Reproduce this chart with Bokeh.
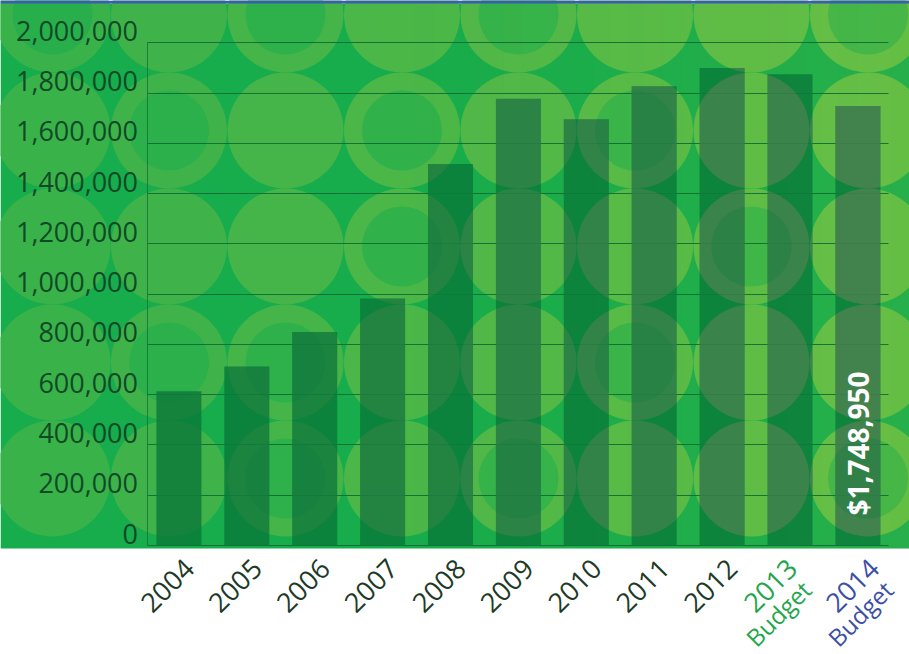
import math

from bokeh.core.properties import value
from bokeh.embed import file_html
from bokeh.models import FixedTicker, Grid, LinearAxis, NumeralTickFormatter, Range1d
from bokeh.plotting import figure
from bokeh.resources import INLINE

# ---- data -------------------------------------------------------------
years = ["2004", "2005", "2006", "2007", "2008", "2009", "2010",
         "2011", "2012", "2013", "2014"]
year_notes = ["", "", "", "", "", "", "", "", "", "Budget", "Budget"]
spending = [614000, 712000, 849000, 983000, 1518000, 1777000, 1696000,
            1827000, 1900000, 1875000, 1748950]
y_ticks = [0, 200000, 400000, 600000, 800000, 1000000,
           1200000, 1400000, 1600000, 1800000, 2000000]

# ---- styling ----------------------------------------------------------
DARK_TEXT = "#1d3a28"
BUDGET_GREEN = "#22a64b"
BUDGET_BLUE = "#3c4fa6"
label_colors = [DARK_TEXT] * 9 + [BUDGET_GREEN, BUDGET_BLUE]
label_nudge = [0] * 9 + [-8, 6]       # horizontal tweak of each year label, px

BASE_RGB = (23, 172, 76)
LIGHT_LEFT = (58, 178, 74)
LIGHT_RIGHT = (96, 189, 70)
RING_INNER_MIX = 0.5
BAR_COLOR = "#0a7d3a"
BAR_SHADOW = "#7a7f66"     # tint of the backdrop circles seen through the bars
GRID_COLOR = "#0e6a33"
RULE_COLOR = "#3a5cb2"
FONT = value("Open Sans")

# ---- geometry (pixels, measured from the top-left of the canvas) -------
W, H = 909, 654
PANEL_TOP = 3        # the green panel starts below a thin blue rule
PANEL_BOTTOM = 548   # ... and ends above a white strip with the year labels
ZERO_PX = 545        # canvas row of the zero line
STEP = 67.9          # distance between bar centres
FIRST = 178.4        # centre of the first bar
BAR_W = 0.663        # bar width as a share of the step
VAL_PER_PX = 3978.5
LABEL_LIFT = 12      # tick labels sit just above their grid lines
YEAR_TOP = 556       # top of the rotated year labels
NOTE_DX, NOTE_DY = 10, 17   # step to the second line of a two-line label
CIRCLE_D, INNER_D = 116, 80


def to_x(px):
    return (px - FIRST) / STEP


def to_y(py):
    return (ZERO_PX - py) * VAL_PER_PX


def mix(a, b, t):
    return "#%02x%02x%02x" % tuple(int(round(a[i] + (b[i] - a[i]) * t)) for i in range(3))


def clip_to_box(pts, x0, x1, y0, y1):
    """Sutherland-Hodgman clip of a polygon against an axis-aligned box."""
    edges = [
        (lambda q: q[0] >= x0, lambda a, b: (x0, a[1] + (b[1] - a[1]) * (x0 - a[0]) / (b[0] - a[0]))),
        (lambda q: q[0] <= x1, lambda a, b: (x1, a[1] + (b[1] - a[1]) * (x1 - a[0]) / (b[0] - a[0]))),
        (lambda q: q[1] >= y0, lambda a, b: (a[0] + (b[0] - a[0]) * (y0 - a[1]) / (b[1] - a[1]), y0)),
        (lambda q: q[1] <= y1, lambda a, b: (a[0] + (b[0] - a[0]) * (y1 - a[1]) / (b[1] - a[1]), y1)),
    ]
    for inside, cut in edges:
        out = []
        for i in range(len(pts)):
            cur, prev = pts[i], pts[i - 1]
            if inside(cur):
                if not inside(prev):
                    out.append(cut(prev, cur))
                out.append(cur)
            elif inside(prev):
                out.append(cut(prev, cur))
        pts = out
        if not pts:
            break
    return pts


def ring_points(px, py, d, n=72):
    return [(px + d / 2 * math.cos(2 * math.pi * k / n),
             py + d / 2 * math.sin(2 * math.pi * k / n)) for k in range(n)]


idx = list(range(len(years)))
axis_x = to_x(146.5)
grid_end = to_x(888)

x_range = Range1d(to_x(0), to_x(W))
y_range = Range1d(to_y(H), to_y(0))

p = figure(width=W, height=H, x_range=x_range, y_range=y_range,
           x_axis_type=None, y_axis_type=None, toolbar_location=None,
           output_backend="svg", min_border=0,
           border_fill_color="white", background_fill_color="white",
           outline_line_color=None)

# green panel
p.quad(left=[to_x(0)], right=[to_x(W)], bottom=[to_y(PANEL_BOTTOM)],
       top=[to_y(PANEL_TOP)], fill_color=mix(BASE_RGB, BASE_RGB, 0),
       line_color=None, level="image")

# backdrop: a wallpaper of tangent circles, some solid, some rings
pattern = ["rfrfrffr",
           "frfrfrff",
           "fffrffrf",
           "frrffrff",
           "ffrfrffr"]
circles = []   # (px, py, ring?, position across the panel 0..1)
cx, cy, cc, ix, iy, ic = [], [], [], [], [], []
for r, row in enumerate(pattern):
    for c, kind in enumerate(row):
        px, py = 52 + 116.5 * c, 14 + 116 * r
        t = min(max((px - 60) / 800, 0), 1)
        circles.append((px, py, kind == "r", min(max((px - 200) / 680, 0), 1)))
        light = tuple(LIGHT_LEFT[i] + (LIGHT_RIGHT[i] - LIGHT_LEFT[i]) * t for i in range(3))
        cx.append(to_x(px)); cy.append(to_y(py)); cc.append(mix(light, light, 0))
        if kind == "r":
            ix.append(to_x(px)); iy.append(to_y(py))
            ic.append(mix(BASE_RGB, light, RING_INNER_MIX))
p.scatter(cx, cy, size=CIRCLE_D, marker="circle", fill_color=cc, line_color=None, level="image")
p.scatter(ix, iy, size=INNER_D, marker="circle", fill_color=ic, line_color=None, level="image")

# soft yellow-green wash towards the right edge
n_strips = 30
sl, sr, sa = [], [], []
for k in range(n_strips):
    x0 = 380 + k * (W - 380) / n_strips
    x1 = 380 + (k + 1) * (W - 380) / n_strips
    sl.append(to_x(x0)); sr.append(to_x(x1)); sa.append(0.13 * (k + 1) / n_strips)
p.quad(left=sl, right=sr, bottom=to_y(PANEL_BOTTOM), top=to_y(PANEL_TOP),
       fill_color="#8cc63f", fill_alpha=sa, line_color=None, level="image")

# thin blue rule along the top edge
p.quad(left=[to_x(0)], right=[to_x(W)], bottom=[to_y(PANEL_TOP)], top=[to_y(0)],
       fill_color=RULE_COLOR, line_color=None, level="image")

# horizontal grid lines, drawn beneath the bars
grid = Grid(dimension=1, ticker=FixedTicker(ticks=y_ticks),
            cross_bounds=(axis_x, grid_end), grid_line_color=GRID_COLOR,
            grid_line_width=1.1, grid_line_alpha=0.9)
p.add_layout(grid)

# bars
p.vbar(x=idx, top=spending, bottom=0, width=BAR_W, fill_color=BAR_COLOR,
       fill_alpha=0.86, line_color=None)

# the backdrop circles show faintly through the bars, more so to the right
sx, sy, s_col, s_alpha = [], [], [], []
half = BAR_W * STEP / 2
for i, v in enumerate(spending):
    bx = FIRST + STEP * i
    btop = ZERO_PX - v / VAL_PER_PX
    for px, py, ring, t in circles:
        layers = [(CIRCLE_D, BAR_SHADOW, 0.04 + 0.40 * t)]
        if ring:
            layers.append((INNER_D, BAR_COLOR, 0.03 + 0.25 * t))
        for d, col, a in layers:
            poly = clip_to_box(ring_points(px, py, d), bx - half, bx + half, btop, ZERO_PX)
            if len(poly) >= 3:
                sx.append([to_x(q[0]) for q in poly])
                sy.append([to_y(q[1]) for q in poly])
                s_col.append(col)
                s_alpha.append(a)
p.patches(sx, sy, fill_color=s_col, fill_alpha=s_alpha, line_color=None)

# vertical axis line
axis_line = LinearAxis(fixed_location=axis_x, ticker=FixedTicker(ticks=[]),
                       bounds=(0, y_ticks[-1]), axis_line_color=GRID_COLOR,
                       axis_line_alpha=0.7, axis_line_width=1,
                       major_tick_line_color=None, minor_tick_line_color=None)
p.add_layout(axis_line, "left")

# tick labels, lifted slightly so they rest on their grid lines
p.extra_y_ranges = {"labels": Range1d(y_range.start - LABEL_LIFT * VAL_PER_PX,
                                      y_range.end - LABEL_LIFT * VAL_PER_PX)}
label_axis = LinearAxis(y_range_name="labels", fixed_location=axis_x,
                        ticker=FixedTicker(ticks=y_ticks),
                        formatter=NumeralTickFormatter(format="0,0"),
                        axis_line_color=None, major_tick_line_color=None,
                        minor_tick_line_color=None, major_label_standoff=3,
                        major_label_text_font="Open Sans",
                        major_label_text_font_size="27px",
                        major_label_text_color="#0f4a26")
p.add_layout(label_axis, "left")

# value callout inside the last bar
last = len(spending) - 1
p.text(x=[idx[last]], y=[0], text=["${:,}".format(spending[last])],
       angle=math.pi / 2, text_align="left", text_baseline="middle",
       y_offset=-30, text_color="white", text_font=FONT,
       text_font_style="bold", text_font_size="28px")

# ---- year labels below the panel --------------------------------------
p.text(x=idx, y=[to_y(YEAR_TOP)] * len(idx), text=years, angle=math.pi / 4,
       text_align="right", text_baseline="top",
       x_offset=[3 + n for n in label_nudge],
       text_color=label_colors, text_font=FONT, text_font_size="27px")

# second line ("Budget") under the budget years, right-aligned with the first
note_idx = [i for i in idx if year_notes[i]]
p.text(x=note_idx, y=[to_y(YEAR_TOP + NOTE_DY)] * len(note_idx),
       text=[year_notes[i] for i in note_idx], angle=math.pi / 4,
       text_align="right", text_baseline="top",
       x_offset=[3 + NOTE_DX + label_nudge[i] for i in note_idx],
       text_color=[label_colors[i] for i in note_idx], text_font=FONT,
       text_font_size="24px")

open("out.html", "w").write(file_html(p, INLINE))
